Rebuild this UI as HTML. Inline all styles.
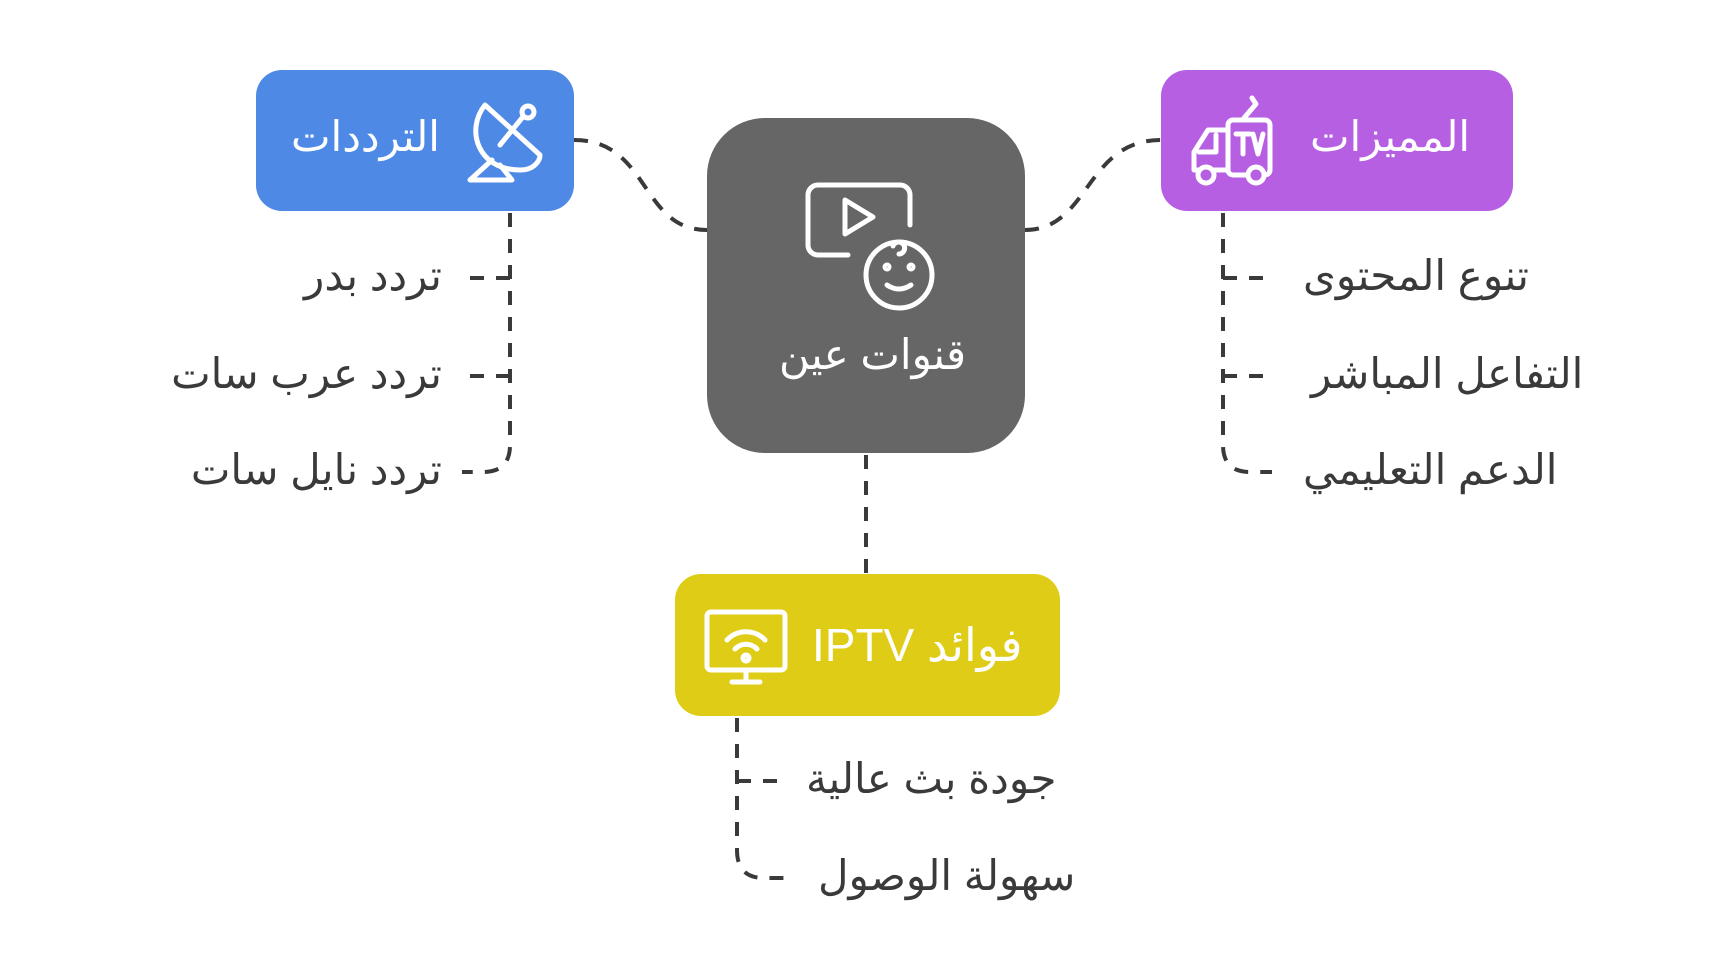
<!DOCTYPE html>
<html><head><meta charset="utf-8">
<style>
html,body{margin:0;padding:0;background:#fff;}
body{width:1734px;height:978px;position:relative;overflow:hidden;font-family:"Liberation Sans","Noto Sans CJK SC","DejaVu Sans",sans-serif;}
.box{position:absolute;border-radius:26px;}
.t{position:absolute;white-space:nowrap;direction:rtl;color:#3a3a3a;font-size:42px;line-height:1;}
.w{color:#fff;}
</style></head><body>
<div class="box" style="left:256px;top:70px;width:318px;height:141px;background:#4e89e6;"></div>
<div class="box" style="left:1161px;top:70px;width:352px;height:141px;background:#b65fe3;"></div>
<div class="box" style="left:707px;top:118px;width:318px;height:335px;background:#666;border-radius:58px;"></div>
<div class="box" style="left:675px;top:574px;width:385px;height:142px;background:#dfcc16;"></div>

<svg width="1734" height="978" style="position:absolute;left:0;top:0" fill="none">
<g stroke="#3a3a3a" stroke-width="4" stroke-dasharray="14 12">
<path d="M574 140 C650 140 640 230 707 230"/>
<path d="M1025 230 C1090 230 1085 140 1161 140"/>
<path d="M866 455 L866 574"/>
<path d="M510 213 L510 445 Q510 472 483 472 L462 472"/>
<path d="M510 278 L462 278"/><path d="M510 376 L462 376"/>
<path d="M1223 213 L1223 445 Q1223 472 1250 472 L1272 472"/>
<path d="M1223 278 L1272 278"/><path d="M1223 376 L1272 376"/>
<path d="M737 718 L737 850 Q737 878 764 878 L787 878"/>
<path d="M737 781 L787 781"/>
</g>
<g stroke="#fff" stroke-width="5" stroke-linecap="round" stroke-linejoin="round">
<path d="M848 255 H818 a10 10 0 0 1 -10 -10 V195 a10 10 0 0 1 10 -10 H900 a10 10 0 0 1 10 10 V225"/>
<path d="M845 200 L873 217 L845 234 Z"/>
<circle cx="899" cy="275" r="33"/>
<path d="M893 246 a6 6 0 1 1 6 8"/>
<path d="M887 285 q12 8 24 0"/>
<circle cx="887" cy="267" r="2"/><circle cx="911" cy="267" r="2"/>
</g>
<g stroke="#fff" stroke-width="5" stroke-linecap="round" stroke-linejoin="round">
<path d="M485 105 C465 130 478 170 520 170 C535 170 540 160 540 155 Z"/>
<path d="M500 145 L522 118"/><circle cx="528" cy="112" r="6"/>
<path d="M492 160 L470 180 L512 180 L500 165"/>
</g>
<g stroke="#fff" stroke-width="5" stroke-linecap="round" stroke-linejoin="round">
<rect x="1228" y="120" width="42" height="55" rx="5"/>
<path d="M1228 130 H1208 L1194 152 V170 H1228"/>
<path d="M1199 152 H1216 V135"/>
<circle cx="1206" cy="175" r="8" fill="#b65fe3"/><circle cx="1256" cy="175" r="8" fill="#b65fe3"/>
<path d="M1244 118 L1256 104 M1256 104 l-4 -6"/>
<path d="M1236 134 h14 M1243 134 v20 M1253 134 l5 20 l5 -20"/>
</g>
<g stroke="#fff" stroke-width="5" stroke-linecap="round" stroke-linejoin="round">
<rect x="707" y="612" width="78" height="58" rx="4"/>
<path d="M746 670 V682 M732 682 H760"/>
<path d="M727 640 a26 26 0 0 1 38 0"/>
<path d="M735 649 a15 15 0 0 1 22 0"/>
<circle cx="746" cy="658" r="3"/>
</g>
</svg>

<div class="t w" style="left:291px;top:116px;font-size:42px;">الترددات</div>
<div class="t w" style="left:1310px;top:116px;font-size:42px;">المميزات</div>
<div class="t w" style="left:779px;top:334px;font-size:42px;">قنوات عين</div>
<div class="t w" style="left:812px;top:622px;font-size:46px;">فوائد IPTV</div>

<div class="t" style="right:1292px;top:255px;">تردد بدر</div>
<div class="t" style="right:1292px;top:353px;">تردد عرب سات</div>
<div class="t" style="right:1292px;top:449px;">تردد نايل سات</div>
<div class="t" style="left:1303px;top:255px;">تنوع المحتوى</div>
<div class="t" style="left:1311px;top:353px;">التفاعل المباشر</div>
<div class="t" style="left:1303px;top:449px;">الدعم التعليمي</div>
<div class="t" style="left:806px;top:758px;">جودة بث عالية</div>
<div class="t" style="left:818px;top:855px;">سهولة الوصول</div>
</body></html>
